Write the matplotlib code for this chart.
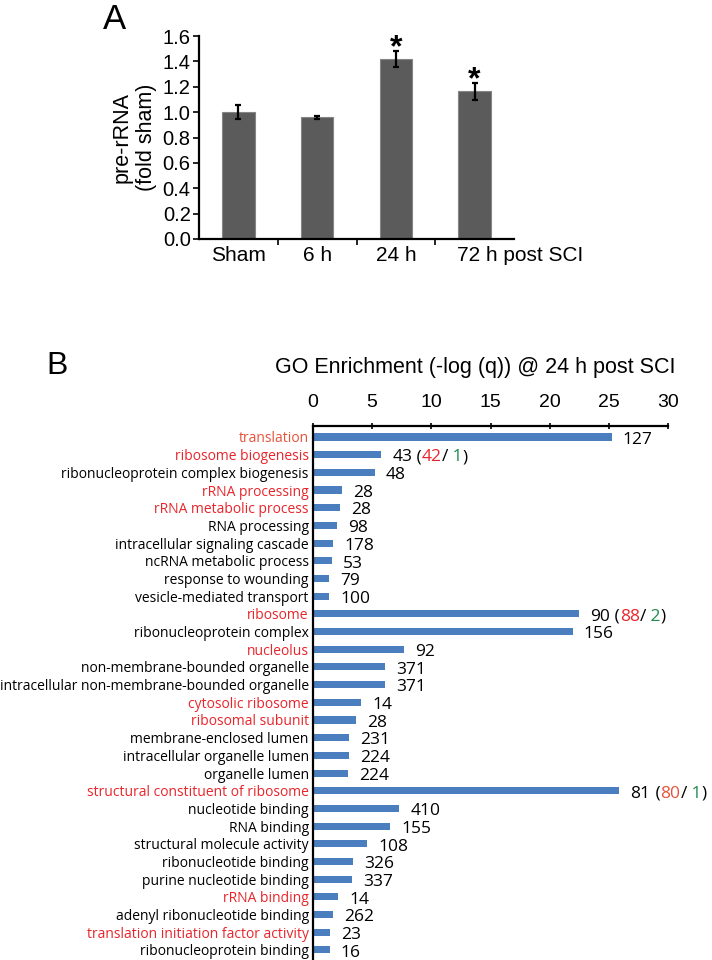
import matplotlib
matplotlib.use("Agg")
import matplotlib.pyplot as plt
import numpy as np
from matplotlib.transforms import ScaledTranslation

# ---------------- Panel A data ----------------
groups = ["Sham", "6 h", "24 h", "72 h post SCI"]
fold = [1.00, 0.96, 1.42, 1.165]
fold_err = [0.055, 0.013, 0.065, 0.068]
significant = [False, False, True, True]
a_yticks = [0.0, 0.2, 0.4, 0.6, 0.8, 1.0, 1.2, 1.4, 1.6]

# ---------------- Panel B data ----------------
terms = [
    "translation", "ribosome biogenesis", "ribonucleoprotein complex biogenesis",
    "rRNA processing", "rRNA metabolic process", "RNA processing",
    "intracellular signaling cascade", "ncRNA metabolic process",
    "response to wounding", "vesicle-mediated transport",
    "ribosome", "ribonucleoprotein complex", "nucleolus",
    "non-membrane-bounded organelle", "intracellular non-membrane-bounded organelle",
    "cytosolic ribosome", "ribosomal subunit", "membrane-enclosed lumen",
    "intracellular organelle lumen", "organelle lumen",
    "structural constituent of ribosome", "nucleotide binding", "RNA binding",
    "structural molecule activity", "ribonucleotide binding",
    "purine nucleotide binding", "rRNA binding", "adenyl ribonucleotide binding",
    "translation initiation factor activity", "ribonucleoprotein binding",
]
enrichment = [25.25, 5.75, 5.2, 2.45, 2.3, 2.05, 1.7, 1.62, 1.35, 1.35,
              22.5, 21.95, 7.7, 6.05, 6.05, 4.05, 3.6, 3.05, 3.05, 2.95,
              25.9, 7.3, 6.5, 4.6, 3.4, 3.3, 2.15, 1.7, 1.45, 1.4]
gene_counts = [127, 43, 48, 28, 28, 98, 178, 53, 79, 100,
               90, 156, 92, 371, 371, 14, 28, 231, 224, 224,
               81, 410, 155, 108, 326, 337, 14, 262, 23, 16]
up_genes = {1: 42, 10: 88, 20: 80}
down_genes = {1: 1, 10: 2, 20: 1}
highlighted = ["translation", "ribosome biogenesis", "rRNA processing",
               "rRNA metabolic process", "ribosome", "nucleolus",
               "cytosolic ribosome", "ribosomal subunit",
               "structural constituent of ribosome", "rRNA binding",
               "translation initiation factor activity"]
b_xticks = [0, 5, 10, 15, 20, 25, 30]

RED = "#E8252B"
ORANGE_RED = "#E5533A"
GREEN = "#1E8A4C"
BAR_BLUE = "#4A7EBF"

W, H = 712, 960
fig = plt.figure(figsize=(W / 100, H / 100), dpi=100)

SANS = ["Liberation Sans", "DejaVu Sans"]
CAL = ["Open Sans", "DejaVu Sans"]

# ================= Panel A =================
axA = fig.add_axes([199 / W, 1 - 239 / H, 315 / W, 203 / H])
x = np.arange(len(groups))
axA.bar(x, fold, width=0.41, color="#5b5b5b", edgecolor="#858585", linewidth=0.8,
        yerr=fold_err, error_kw=dict(ecolor="black", elinewidth=1.6, capsize=2, capthick=1.6),
        zorder=2)
axA.set_xlim(-0.5, len(groups) - 0.5)
axA.set_ylim(0, 1.6)
axA.set_yticks(a_yticks)
axA.set_yticklabels([f"{v:.1f}" for v in a_yticks], family=SANS, fontsize=14.5)
axA.set_xticks(x)
axA.set_xticklabels(groups, family=SANS, fontsize=15)
axA.set_xticks(np.arange(0.5, len(groups) - 0.5, 1), minor=True)
axA.tick_params(axis="x", which="major", length=0, pad=5)
axA.tick_params(axis="x", which="minor", length=4, width=1.2, direction="out")
axA.tick_params(axis="y", length=4, width=1.2, direction="out", pad=2)
for s in ("top", "right"):
    axA.spines[s].set_visible(False)
for s in ("left", "bottom"):
    axA.spines[s].set_linewidth(1.6)
# last label: "72 h" centred under its bar, rest continues to the right
last = axA.get_xticklabels()[-1]
last.set_horizontalalignment("left")
last.set_transform(last.get_transform() + ScaledTranslation(-18 / 100, 0, fig.dpi_scale_trans))

for i, (v, e, sig) in enumerate(zip(fold, fold_err, significant)):
    if sig:
        axA.text(i, v + e - 0.045, "*", ha="center", va="baseline",
                 fontsize=23, fontweight="bold", family=SANS)

axA.set_ylabel("pre-rRNA\n(fold sham)", family=SANS, fontsize=15.5, linespacing=1.25,
               labelpad=4)
fig.text(103 / W, 1 - 29 / H, "A", family=SANS, fontsize=25, ha="left", va="baseline")

# ================= Panel B =================
axB = fig.add_axes([313 / W, 0, 355 / W, 534 / H])
yy = np.arange(len(terms))
axB.barh(yy, enrichment, height=0.4, color=BAR_BLUE, zorder=2)
axB.set_xlim(0, 30)
axB.set_ylim(len(terms) - 1 + 0.57, -0.62)
axB.xaxis.tick_top()
axB.set_xticks(b_xticks)
axB.set_xticklabels([str(t) for t in b_xticks], family=SANS, fontsize=14)
axB.tick_params(axis="x", length=5, width=1.2, direction="inout", pad=8)
axB.set_yticks(yy)
axB.set_yticklabels(terms, family=CAL, fontsize=10)
axB.tick_params(axis="y", length=0, pad=3)
for lab, term in zip(axB.get_yticklabels(), terms):
    if term in highlighted:
        lab.set_color(ORANGE_RED if term == "translation" else RED)
for s in ("bottom", "right"):
    axB.spines[s].set_visible(False)
for s in ("left", "top"):
    axB.spines[s].set_linewidth(1.6)

CNT_FS = 12.5
for i, (v, n) in enumerate(zip(enrichment, gene_counts)):
    t = axB.annotate(str(n), xy=(v, i), xytext=(8, -2), textcoords="offset points",
                     ha="left", va="center", family=CAL, fontsize=CNT_FS, color="black",
                     annotation_clip=False)
    if i in up_genes:
        up_col = ORANGE_RED if i == 20 else RED
        parts = [(" (", "black"), (str(up_genes[i]), up_col), ("/", "black"),
                 (" " + str(down_genes[i]), GREEN), (")", "black")]
        for s, c in parts:
            t = axB.annotate(s, xy=(1, 0), xycoords=t, ha="left", va="bottom",
                             family=CAL, fontsize=CNT_FS, color=c, annotation_clip=False)

fig.text(475 / W, 1 - 367 / H, "GO Enrichment (-log (q)) @ 24 h post SCI", family=SANS,
         fontsize=15.5, ha="center", va="center")
fig.text(46 / W, 1 - 374 / H, "B", family=SANS, fontsize=23, ha="left", va="baseline")

fig.savefig("out.png", dpi=100)
